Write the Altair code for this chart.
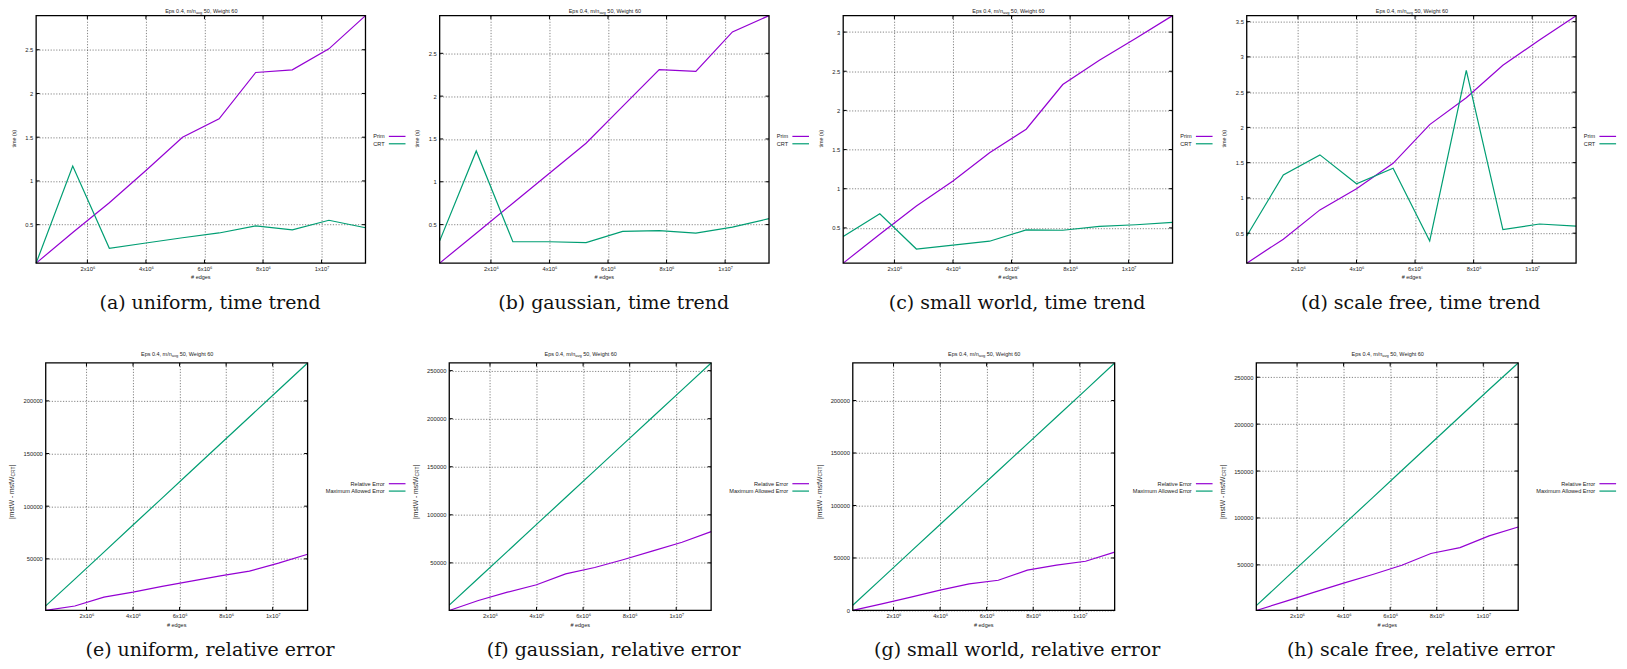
import altair as alt
import pandas as pd

# ---------------- data ----------------
X_EDGES = [250000, 1500000, 2750000, 4000000, 5250000, 6500000, 7750000, 9000000, 10250000, 11500000]
X_TICKS = [2000000, 4000000, 6000000, 8000000, 10000000]

TIME_SERIES = ["Prim", "CRT"]
ERR_SERIES = ["Relative Error", "Maximum Allowed Error"]

PRIM_UNIFORM = [0.06, 0.41, 0.75, 1.12, 1.50, 1.71, 2.24, 2.27, 2.51, 2.89]
CRT_UNIFORM = [0.06, 1.17, 0.23, 0.29, 0.35, 0.405, 0.485, 0.44, 0.55, 0.465]

PRIM_GAUSSIAN = [0.05, 0.40, 0.75, 1.10, 1.45, 1.88, 2.31, 2.29, 2.75, 2.94]
CRT_GAUSSIAN = [0.31, 1.36, 0.30, 0.30, 0.29, 0.42, 0.43, 0.40, 0.47, 0.57]

PRIM_SMALLWORLD = [0.05, 0.42, 0.78, 1.10, 1.46, 1.76, 2.33, 2.64, 2.92, 3.21]
CRT_SMALLWORLD = [0.39, 0.68, 0.23, 0.28, 0.33, 0.475, 0.47, 0.52, 0.54, 0.57]

PRIM_SCALEFREE = [0.075, 0.415, 0.83, 1.13, 1.49, 2.04, 2.42, 2.88, 3.24, 3.585]
CRT_SCALEFREE = [0.46, 1.325, 1.61, 1.20, 1.42, 0.39, 2.81, 0.55, 0.63, 0.60]

REL_UNIFORM = [1000, 5200, 13700, 18400, 23800, 28800, 33900, 38300, 45900, 54400]
MAX_UNIFORM = [5300, 30800, 56400, 82100, 107700, 133400, 159000, 184700, 210300, 236000]

REL_GAUSSIAN = [500, 10900, 19500, 27200, 38600, 45200, 53500, 62500, 71500, 82500]
MAX_GAUSSIAN = [6050, 34000, 62000, 90000, 118000, 146000, 174000, 202000, 230000, 258000]

REL_SMALLWORLD = [0, 6300, 12700, 19300, 25400, 28800, 38400, 43100, 46900, 55500]
MAX_SMALLWORLD = [5000, 30600, 56300, 81900, 107500, 133100, 158700, 184300, 209900, 235800]

REL_SCALEFREE = [1400, 11000, 20900, 30500, 39700, 49600, 62100, 68400, 80900, 90400]
MAX_SCALEFREE = [6500, 35300, 64100, 92900, 121700, 150500, 179300, 208100, 236900, 265200]

TIME_TICKS = [0.5, 1, 1.5, 2, 2.5, 3, 3.5]
ERR_TICKS = [0, 50000, 100000, 150000, 200000, 250000]

TOP_CAPTIONS = ["(a) uniform, time trend", "(b) gaussian, time trend",
                "(c) small world, time trend", "(d) scale free, time trend"]
BOTTOM_CAPTIONS = ["(e) uniform, relative error", "(f) gaussian, relative error",
                   "(g) small world, relative error", "(h) scale free, relative error"]
HEADER = ["Eps 0.4, m/n", "avg", "50, Weight 60"]
TIME_TITLE = "time (s)"
ERR_TITLE = ["|mstW - mstW", "CRT", "|"]
X_TITLE = "# edges"

PURPLE = "#9400D3"
GREEN = "#009E73"
SANS = "Liberation Sans"
SERIF = "DejaVu Serif"
TXT = "#222222"

XLABEL = "datum.value >= 10000000 ? '1x10\u2077' : format(datum.value / 1000000, 'd') + 'x10\u2076'"


def txt(s, **kw):
    base = dict(font=SANS, fontSize=5.5, color=TXT, baseline="middle", align="center")
    base.update(kw)
    return alt.Chart(pd.DataFrame({"t": [s]})).mark_text(**base).encode(text="t:N")


def panel(names, a_vals, b_vals, tick_pool, yfmt, caption, top):
    W = 330 if top else 272
    x0 = 0 if top else 9.6
    H = 248
    C = (x0 + W) / 2
    ymin = min(a_vals + b_vals)
    ymax = max(a_vals + b_vals)
    yticks = [t for t in tick_pool if ymin <= t <= ymax]
    xs = alt.Scale(domain=[X_EDGES[0], X_EDGES[-1]], range=[x0, W], nice=False, zero=False)
    ys = alt.Scale(domain=[ymin, ymax], nice=False, zero=False)
    xaxis = alt.Axis(values=X_TICKS, labelExpr=XLABEL, title=None, grid=True, ticks=False, tickSize=0,
                     domain=False, labelPadding=5.0, labelBaseline="middle", labelAlign="center")
    yaxis = alt.Axis(values=yticks, format=yfmt, title=None, grid=True, ticks=False, tickSize=0,
                     domain=False, labelPadding=3.4, offset=-x0, labelBaseline="middle")

    df = pd.DataFrame({
        "edges": X_EDGES + X_EDGES,
        "value": a_vals + b_vals,
        "series": [names[0]] * len(a_vals) + [names[1]] * len(b_vals),
    })
    lines = alt.Chart(df).mark_line(strokeWidth=1.2).encode(
        x=alt.X("edges:Q", scale=xs, axis=xaxis),
        y=alt.Y("value:Q", scale=ys, axis=yaxis),
        color=alt.Color("series:N", scale=alt.Scale(domain=names, range=[PURPLE, GREEN]),
                        legend=alt.Legend(orient="none", legendX=350.6, legendY=118.2, title=None,
                                          direction="vertical", symbolType="M0,0H11.8", symbolSize=8,
                                          symbolStrokeWidth=1.2, labelAlign="right",
                                          labelOffset={"expr": "-7"},
                                          rowPadding=0.4, padding=0, labelFontSize=5.6,
                                          labelFont=SANS, labelColor=TXT)),
    )

    frame = alt.Chart(pd.DataFrame({"k": [0]})).mark_rect(
        fill="transparent", stroke="black", strokeWidth=1.3).encode(
        x=alt.XDatum(X_EDGES[0], type="quantitative", scale=xs, axis=xaxis),
        x2=alt.X2Datum(X_EDGES[-1]),
        y=alt.YDatum(ymin, type="quantitative", scale=ys, axis=yaxis),
        y2=alt.Y2Datum(ymax),
    )

    xt = pd.DataFrame({"v": X_TICKS})
    yt = pd.DataFrame({"v": yticks})
    tick = dict(color="black", strokeWidth=1)
    xtb = alt.Chart(xt).mark_rule(**tick).encode(
        x=alt.X("v:Q", scale=xs, axis=xaxis), y=alt.value(H), y2=alt.value(H - 3.5))
    xtt = alt.Chart(xt).mark_rule(**tick).encode(
        x=alt.X("v:Q", scale=xs, axis=xaxis), y=alt.value(0), y2=alt.value(3.5))
    ytl = alt.Chart(yt).mark_rule(**tick).encode(
        y=alt.Y("v:Q", scale=ys, axis=yaxis), x=alt.value(x0), x2=alt.value(x0 + 3.5))
    ytr = alt.Chart(yt).mark_rule(**tick).encode(
        y=alt.Y("v:Q", scale=ys, axis=yaxis), x=alt.value(W - 3.5), x2=alt.value(W))

    hy = -4.5 if top else -8.7
    hx = C - 4.95
    h1 = txt(HEADER[0], align="right").encode(x=alt.value(hx), y=alt.value(hy))
    h2 = txt(HEADER[1], align="left", fontSize=4).encode(x=alt.value(hx), y=alt.value(hy + 1.6))
    h3 = txt(HEADER[2], align="left").encode(x=alt.value(hx + 7.95), y=alt.value(hy))

    xtitle = txt(X_TITLE).encode(x=alt.value(C), y=alt.value(262.3))
    cap = txt(caption, font=SERIF, fontSize=19, color="#111111").encode(
        x=alt.value(174.3), y=alt.value(287.8))

    if top:
        yt_layers = [txt(TIME_TITLE, angle=270, fontSize=5.3).encode(
            x=alt.value(-22.4), y=alt.value(123.3))]
    else:
        yx = -23.7
        y_start = 156.3
        w1 = 42.6
        w2 = 9.9
        yt_layers = [
            txt(ERR_TITLE[0], angle=270, fontSize=6.8, align="left").encode(
                x=alt.value(yx), y=alt.value(y_start)),
            txt(ERR_TITLE[1], angle=270, fontSize=4.8, align="left").encode(
                x=alt.value(yx + 1.8), y=alt.value(y_start - w1)),
            txt(ERR_TITLE[2], angle=270, fontSize=6.8, align="left").encode(
                x=alt.value(yx), y=alt.value(y_start - w1 - w2)),
        ]

    return alt.layer(lines, frame, xtb, xtt, ytl, ytr, h1, h2, h3, xtitle, cap, *yt_layers).properties(
        width=W, height=H)


top_data = [(PRIM_UNIFORM, CRT_UNIFORM), (PRIM_GAUSSIAN, CRT_GAUSSIAN),
            (PRIM_SMALLWORLD, CRT_SMALLWORLD), (PRIM_SCALEFREE, CRT_SCALEFREE)]
bottom_data = [(REL_UNIFORM, MAX_UNIFORM), (REL_GAUSSIAN, MAX_GAUSSIAN),
               (REL_SMALLWORLD, MAX_SMALLWORLD), (REL_SCALEFREE, MAX_SCALEFREE)]

panels = []
for i in range(4):
    panels.append(panel(TIME_SERIES, top_data[i][0], top_data[i][1], TIME_TICKS, "~g", TOP_CAPTIONS[i], True))
for i in range(4):
    panels.append(panel(ERR_SERIES, bottom_data[i][0], bottom_data[i][1], ERR_TICKS, "d", BOTTOM_CAPTIONS[i], False))

chart = alt.concat(*panels, columns=4, spacing={"row": 100, "column": 74.33}, bounds="flush").resolve_scale(
    x="independent", y="independent", color="independent").resolve_legend(
    color="independent").properties(
    padding={"left": 1.2, "top": 0, "right": 0, "bottom": 0},
    background="white",
).configure_view(strokeOpacity=0).configure_axis(
    labelFont=SANS, labelFontSize=5.8, labelColor=TXT,
    gridColor="#333333", gridDash=[1.2, 1.6], gridWidth=0.6, gridOpacity=1,
)

chart.save("out.html", embed_options={"renderer": "svg", "actions": False})
